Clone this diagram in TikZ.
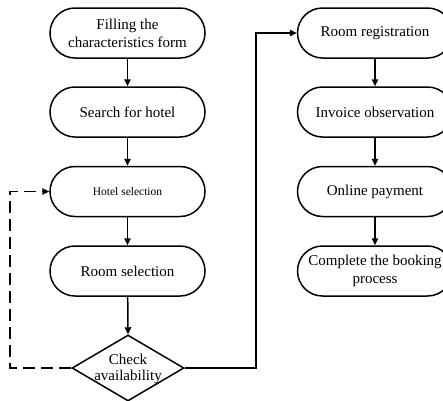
\documentclass[tikz,border=0pt]{standalone}
\usepackage{fontspec}
\setmainfont{Liberation Serif}
\usetikzlibrary{shapes.geometric,arrows.meta}
\begin{document}
\begin{tikzpicture}[x=1pt,y=-1pt,
  every node/.style={font=\fontsize{15pt}{18pt}\selectfont},
  proc/.style={draw, line width=1.5pt, rectangle, rounded corners=25pt,
    minimum width=155pt, minimum height=50pt, align=center, inner sep=2pt},
  decis/.style={draw, line width=1.5pt, diamond, minimum width=112pt,
    minimum height=66pt, inner sep=0pt},
  conn/.style={line width=1.5pt, -{Triangle[length=7pt,width=6.5pt]}},
  dashconn/.style={conn, dash pattern=on 12pt off 6pt}
]
\useasboundingbox (0,0) rectangle (443,400);
\node[proc] (fill) at (127.5,33) {Filling the\\characteristics form};
\node[proc] (search) at (127.5,112) {Search for hotel};
\node[proc, font=\fontsize{11.5pt}{14pt}\selectfont] (hotel) at (127.5,191.5) {Hotel selection};
\node[proc] (room) at (127.5,271) {Room selection};
\node[decis] (check) at (128,368) {};
\node[align=center, font=\fontsize{15pt}{16pt}\selectfont] (checktxt) at (128,369) {Check\\availability};

\node[proc] (reg) at (375,33) {Room registration};
\node[proc] (inv) at (375,112) {Invoice observation};
\node[proc] (pay) at (375,191.5) {Online payment};
\node[proc] (comp) at (375,271) {Complete the booking\\process};

\coordinate (dl) at (10,368);
\coordinate (du) at (10,191.5);
\coordinate (sr) at (256,368);
\coordinate (su) at (256,33);

\draw[conn] (fill) -- (search);
\draw[conn] (search) -- (hotel);
\draw[conn] (hotel) -- (room);
\draw[conn] (room) -- (check.north);
\draw[dashconn] (check.west) -- (dl) -- (du) -- (hotel.west);
\draw[conn] (check.east) -- (sr) -- (su) -- (reg.west);
\draw[conn] (reg) -- (inv);
\draw[conn] (inv) -- (pay);
\draw[conn] (pay) -- (comp);
\end{tikzpicture}
\end{document}
